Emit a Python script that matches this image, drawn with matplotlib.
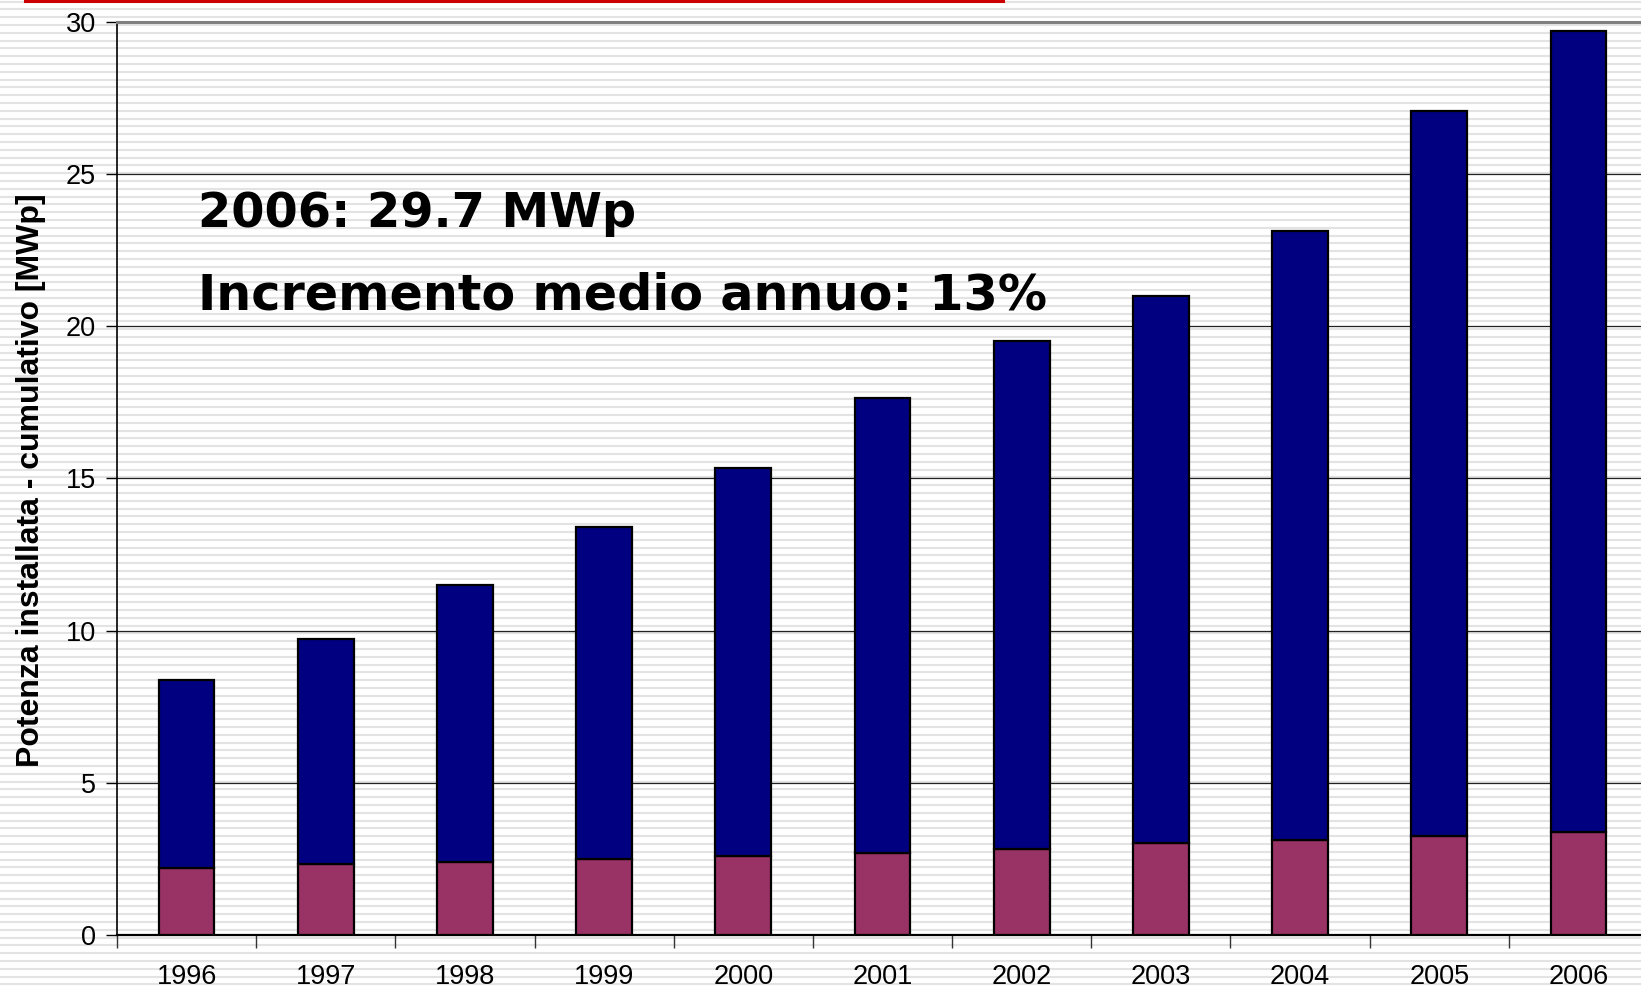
import numpy as np
import matplotlib
matplotlib.use("Agg")
import matplotlib.pyplot as plt
from matplotlib.lines import Line2D

# data
years = ['1996', '1997', '1998', '1999', '2000', '2001', '2002', '2003', '2004', '2005', '2006']
totale = [8.38, 9.72, 11.51, 13.40, 15.33, 17.63, 19.52, 21.00, 23.13, 27.08, 29.69]
quota_bassa = [2.20, 2.34, 2.41, 2.51, 2.61, 2.71, 2.82, 3.02, 3.13, 3.26, 3.40]
yticks = [0, 5, 10, 15, 20, 25, 30]

W, H = 1641, 990
fig = plt.figure(figsize=(W / 100, H / 100), dpi=100)
fig.patch.set_facecolor('white')

# striped background over the whole slide
for yp in np.arange(1.5, H, 7.8):
    fig.add_artist(Line2D([0, 1], [1 - yp / H, 1 - yp / H], transform=fig.transFigure,
                          color='#e3e3e3', lw=1.5, zorder=-5))
# red rule at the top
fig.add_artist(Line2D([25 / W, 1003 / W], [1 - 1 / H, 1 - 1 / H], transform=fig.transFigure,
                      color='#cc0000', lw=2.2, zorder=-4))

ax = fig.add_axes([117 / W, 1 - 935 / H, 1531 / W, 913 / H])
ax.patch.set_visible(False)

x = np.arange(len(years))
quota_alta = [t - b for t, b in zip(totale, quota_bassa)]
ax.bar(x, quota_bassa, width=0.4, color='#993366', edgecolor='black', lw=1.6, zorder=3)
ax.bar(x, quota_alta, width=0.4, bottom=quota_bassa, color='#000080', edgecolor='black', lw=1.6, zorder=3)

ax.set_xlim(-0.5, len(years) - 0.5)
ax.set_ylim(0, 30)
ax.set_yticks(yticks)
for yv in yticks[1:-1]:
    ax.axhline(yv, color='#222222', lw=0.9, zorder=1)

ax.set_xticks(x)
ax.set_xticklabels(years)
ax.set_xticks(np.arange(-0.5, len(years), 1), minor=True)
ax.tick_params(axis='x', which='major', length=0, pad=21, labelsize=19.5)
ax.tick_params(axis='x', which='minor', length=9, width=1, color='#333333', direction='out')
ax.tick_params(axis='y', length=8, width=1, pad=7, labelsize=19.5, direction='out')
for lab in ax.get_xticklabels() + ax.get_yticklabels():
    lab.set_fontfamily('Liberation Sans')

ax.spines['right'].set_visible(False)
ax.spines['top'].set_color('#808080')
ax.spines['top'].set_linewidth(2.2)
ax.spines['left'].set_linewidth(1.2)
ax.spines['bottom'].set_linewidth(1.6)

fig.text(31 / W, 1 - 480 / H, 'Potenza installata - cumulativo [MWp]', rotation=90,
         ha='center', va='center', fontsize=23, fontweight='bold', family='Liberation Sans')

fig.text(198 / W, 1 - 227 / H, '2006: 29.7 MWp', fontsize=34.5, fontweight='bold',
         family='DejaVu Sans', ha='left', va='baseline')
fig.text(198 / W, 1 - 310 / H, 'Incremento medio annuo: 13%', fontsize=35.5, fontweight='bold',
         family='DejaVu Sans', ha='left', va='baseline')

fig.savefig('out.png', dpi=100)
